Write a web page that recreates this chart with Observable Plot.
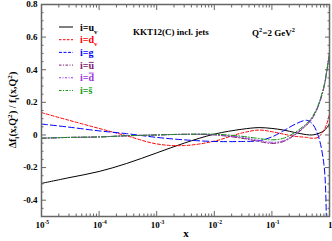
<!DOCTYPE html>
<html><head><meta charset="utf-8">
<script src="https://cdn.jsdelivr.net/npm/d3@7"></script>
<script src="https://cdn.jsdelivr.net/npm/@observablehq/plot@0.6"></script>
<style>
html,body{margin:0;padding:0;background:#fff;}
</style></head>
<body><div id="chart"></div>
<script>
// x grid (Bjorken x) and ratio values per parton
const xs   = [1e-5, 3e-5, 1e-4, 3e-4, 1e-3, 3e-3, 0.01, 0.03, 0.06, 0.1, 0.16, 0.25, 0.4, 0.5, 0.63, 0.8, 0.9, 1.0];
const uv   = [-0.297, -0.262, -0.224, -0.175, -0.11, -0.05, 0.005, 0.035, 0.045, 0.04, 0.03, 0.015, 0.002, 0.0, 0.008, 0.025, 0.045, 0.07];
const dv   = [0.137, 0.09, 0.04, -0.005, -0.055, -0.065, -0.038, 0.012, 0.03, 0.02, 0.005, -0.008, -0.015, -0.02, -0.015, 0.03, 0.07, 0.13];
const g    = [0.067, 0.048, 0.025, 0.008, -0.015, -0.03, -0.04, -0.04, -0.035, -0.012, 0.026, 0.065, 0.09, 0.07, 0.0, -0.18, -0.6, -1.0];
const ubar = [-0.02, -0.015, -0.012, -0.005, 0.0, 0.004, 0.0, -0.02, -0.04, -0.052, -0.04, 0.0, 0.06, 0.1, 0.17, 0.29, 0.39, 0.5];
const dbar = [-0.02, -0.015, -0.012, -0.005, 0.0, 0.004, 0.002, -0.015, -0.033, -0.045, -0.035, 0.005, 0.065, 0.105, 0.175, 0.295, 0.395, 0.5];
const sbar = [-0.02, -0.015, -0.012, -0.005, 0.0, 0.004, 0.005, -0.008, -0.022, -0.03, -0.02, 0.015, 0.07, 0.11, 0.18, 0.3, 0.4, 0.5];

const seriesNames = ["uv", "dv", "g", "ubar", "dbar", "sbar"];
const seriesVals  = [uv, dv, g, ubar, dbar, sbar];
const seriesColor = ["#000000", "#ff0000", "#0000ff", "#7a2070", "#9b30e0", "#109a10"];
const seriesDash  = [null, "3,2", "6,3", "5,2,1,2", "4,2,1,2,1,2", "5,2,1,2"];
const legendDash  = [null, "2.5,1.5", "3,1.5", "2.5,1.5,1,1.5", "2,1.5,1,1.5", "2.5,1.5,1,1.5"];
const legendLabels = [
  [{t: "i=u"}, {t: "v", k: "sub"}],
  [{t: "i=d"}, {t: "v", k: "sub"}],
  [{t: "i=g"}],
  [{t: "i="}, {t: "u", k: "bar"}],
  [{t: "i="}, {t: "d", k: "bar"}],
  [{t: "i="}, {t: "s", k: "bar"}]
];

const xMajor = [1e-5, 1e-4, 1e-3, 1e-2, 1e-1, 1];
const xBase  = ["10", "10", "10", "10", "10", "1"];
const xExp   = ["-5", "-4", "-3", "-2", "-1", ""];
const xMinor = [];
for (let k = -5; k < 0; k++) for (let m = 2; m <= 9; m++) xMinor.push(m * Math.pow(10, k));
const yMajor = [-0.4, -0.2, 0, 0.2, 0.4, 0.6, 0.8];
const yMinor = [-0.45, -0.35, -0.3, -0.25, -0.15, -0.1, -0.05, 0.05, 0.1, 0.15, 0.25, 0.3, 0.35, 0.45, 0.5, 0.55, 0.65, 0.7, 0.75];

const rows = [];
seriesNames.forEach((s, i) => xs.forEach((x, j) => rows.push({s, x, y: seriesVals[i][j]})));

const font = "Liberation Serif";
const axisCol = "#666";
const lineMarks = seriesNames.map((s, i) => Plot.line(rows.filter(r => r.s === s), {
  x: "x", y: "y", stroke: seriesColor[i], strokeWidth: 1,
  strokeDasharray: seriesDash[i] || undefined, curve: "catmull-rom", clip: true
}));
const tk = (o) => Plot.axisX({label: null, tickFormat: () => "", stroke: axisCol, ...o});
const tky = (o) => Plot.axisY({label: null, tickFormat: () => "", stroke: axisCol, ...o});

const chart = Plot.plot({
  width: 332, height: 241,
  marginLeft: 41, marginRight: 3, marginTop: 4, marginBottom: 25,
  x: {type: "log", domain: [1e-5, 1]},
  y: {domain: [-0.5, 0.8]},
  style: {fontFamily: font, fontWeight: "bold", fontSize: "9px", background: "#fff", color: "#000"},
  marks: [
    ...lineMarks,
    Plot.frame({stroke: axisCol, strokeWidth: 1.5}),
    tk({anchor: "bottom", ticks: xMajor, tickSize: -5}),
    tk({anchor: "bottom", ticks: xMinor, tickSize: -2.5}),
    tk({anchor: "top", ticks: xMajor, tickSize: -5}),
    tk({anchor: "top", ticks: xMinor, tickSize: -2.5}),
    Plot.axisY({anchor: "left", label: null, ticks: yMajor, tickSize: -5, tickPadding: 9, tickFormat: d => String(d), stroke: axisCol, fill: "#000", fontSize: 9}),
    tky({anchor: "left", ticks: yMinor, tickSize: -2.5}),
    tky({anchor: "right", ticks: yMajor, tickSize: -5}),
    tky({anchor: "right", ticks: yMinor, tickSize: -2.5}),
    Plot.text(xMajor, {x: d => d, frameAnchor: "bottom", dy: 11, text: (d, i) => xBase[i], textAnchor: "end", dx: 3, fontSize: 9}),
    Plot.text(xMajor, {x: d => d, frameAnchor: "bottom", dy: 7, text: (d, i) => xExp[i], textAnchor: "start", dx: 3, fontSize: 5.5})
  ]
});
document.getElementById("chart").appendChild(chart);

const svg = d3.select(chart);
const ov = svg.append("g").attr("font-family", font).attr("font-weight", "bold").attr("text-anchor", "start");

// rich text: pieces laid out one after another (sub, sup, overline)
function rich(parent, parts, size, fill) {
  const gg = parent.append("g");
  let cx = 0;
  parts.forEach(p => {
    const small = p.k === "sub" || p.k === "sup";
    const fs = small ? size * 0.7 : size;
    const dy = p.k === "sub" ? size * 0.3 : p.k === "sup" ? -size * 0.42 : 0;
    const t = gg.append("text").attr("x", cx).attr("y", dy).attr("font-size", fs).attr("fill", fill).text(p.t);
    const w = t.node().getComputedTextLength();
    if (p.k === "bar") {
      const by = p.t === "d" ? -size * 0.82 : -size * 0.62;
      gg.append("line").attr("x1", cx + 0.3).attr("x2", cx + w - 0.3).attr("y1", by).attr("y2", by)
        .attr("stroke", fill).attr("stroke-width", 0.9);
    }
    cx += w + (small ? 0.3 : 0);
  });
  return {g: gg, width: cx};
}

// y-axis label
const ylg = ov.append("g").attr("transform", "translate(16,110) rotate(-90)");
const yr = rich(ylg, [{t: "Δf"}, {t: "i", k: "sub"}, {t: "(x,Q"}, {t: "2", k: "sup"}, {t: ") / f"}, {t: "i", k: "sub"}, {t: "(x,Q"}, {t: "2", k: "sup"}, {t: ")"}], 10, "#000");
yr.g.attr("transform", `translate(${-yr.width / 2},0)`);

// x-axis label
ov.append("text").attr("x", 186).attr("y", 237).attr("text-anchor", "middle").attr("font-size", 11).text("x");

// annotations
ov.append("text").attr("x", 133).attr("y", 35).attr("font-size", 9).text("KKT12(C) incl. jets");
const qg = ov.append("g").attr("transform", "translate(252,36)");
rich(qg, [{t: "Q"}, {t: "2", k: "sup"}, {t: "=2 GeV"}, {t: "2", k: "sup"}], 9, "#000");

// legend
const ly0 = 27, ldy = 12.7;
seriesNames.forEach((s, i) => {
  const y = ly0 + i * ldy;
  ov.append("line").attr("x1", 59).attr("x2", 73).attr("y1", y).attr("y2", y)
    .attr("stroke", seriesColor[i]).attr("stroke-width", 1)
    .attr("stroke-dasharray", legendDash[i]);
  const lg = ov.append("g").attr("transform", `translate(80,${y + 3.5})`);
  rich(lg, legendLabels[i], 10, seriesColor[i]);
});
</script>
</body></html>
